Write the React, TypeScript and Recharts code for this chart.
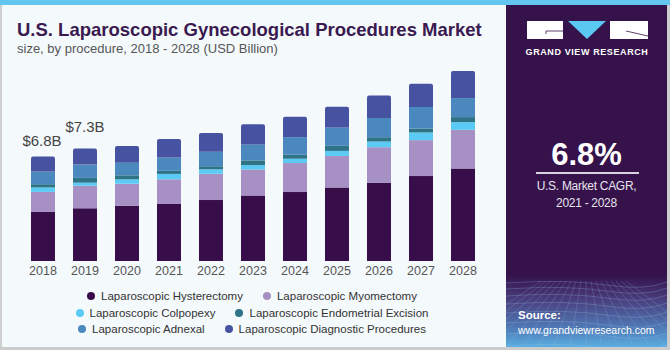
import React from 'react';
import { BarChart, Bar, XAxis, YAxis, LabelList } from 'recharts';

const years = ['2018', '2019', '2020', '2021', '2022', '2023', '2024', '2025', '2026', '2027', '2028'];
const hysterectomy = [3.2, 3.43, 3.6, 3.71, 3.97, 4.27, 4.49, 4.79, 5.09, 5.53, 6.03];
const myomectomy = [1.3, 1.47, 1.43, 1.61, 1.71, 1.69, 1.89, 2.05, 2.32, 2.34, 2.51];
const colpopexy = [0.29, 0.2, 0.29, 0.35, 0.29, 0.28, 0.28, 0.33, 0.37, 0.5, 0.5];
const endometrial = [0.21, 0.31, 0.26, 0.2, 0.2, 0.31, 0.26, 0.33, 0.28, 0.26, 0.33];
const adnexal = [0.83, 0.87, 0.82, 0.87, 0.95, 1.04, 1.15, 1.2, 1.25, 1.4, 1.24];
const diagnostic = [0.97, 1.04, 1.09, 1.2, 1.22, 1.32, 1.32, 1.34, 1.46, 1.52, 1.76];
const totalLabels = ['$6.8B', '$7.3B', '', '', '', '', '', '', '', '', ''];

const seriesNames = [
  'Laparoscopic Hysterectomy',
  'Laparoscopic Myomectomy',
  'Laparoscopic Colpopexy',
  'Laparoscopic Endometrial Excision',
  'Laparoscopic Adnexal',
  'Laparoscopic Diagnostic Procedures',
];
const seriesKeys = ['hyst', 'myo', 'colp', 'endo', 'adn', 'diag'];
const seriesColors = ['#370e49', '#a690c4', '#5bcbf5', '#2e7386', '#4b88bd', '#4753a1'];
const legendRows = [[0, 1], [2, 3], [4, 5]];

const data = years.map((y, i) => ({
  year: y,
  hyst: hysterectomy[i],
  myo: myomectomy[i],
  colp: colpopexy[i],
  endo: endometrial[i],
  adn: adnexal[i],
  diag: diagnostic[i],
  label: totalLabels[i],
}));

const FONT = '"Liberation Sans", Arial, sans-serif';

const renderTotal = (props: any) => {
  const { x, y, width, index } = props;
  const text = totalLabels[index];
  if (!text) return null;
  const lift = index === 0 ? 11 : 17;
  return (
    <text
      x={x + width / 2 - (index === 0 ? 1 : 0)}
      y={y - lift}
      textAnchor="middle"
      fontSize={15}
      fill="#444"
      fontFamily={FONT}
    >
      {text}
    </text>
  );
};

export default function App() {
  return (
    <div
      style={{
        position: 'absolute',
        left: 0,
        top: 0,
        width: 670,
        height: 350,
        background: '#f4f9fc',
        overflow: 'hidden',
        fontFamily: FONT,
      }}
    >
      <div style={{ position: 'absolute', left: 0, top: 0, width: 670, height: 5, background: '#62c6ee' }} />
      <div style={{ position: 'absolute', left: 0, top: 5, width: 1.5, height: 345, background: '#cfcfcf' }} />
      <div style={{ position: 'absolute', left: 0, top: 347, width: 670, height: 3, background: '#cccccc' }} />
      <div style={{ position: 'absolute', left: 667, top: 5, width: 3, height: 345, background: '#cccccc' }} />

      <div
        style={{
          position: 'absolute',
          left: 17,
          top: 21,
          fontSize: 18.5,
          lineHeight: '18.5px',
          fontWeight: 'bold',
          color: '#3a1a50',
          whiteSpace: 'nowrap',
        }}
      >
        U.S. Laparoscopic Gynecological Procedures Market
      </div>
      <div
        style={{
          position: 'absolute',
          left: 17,
          top: 42,
          fontSize: 13,
          lineHeight: '13px',
          color: '#555',
          whiteSpace: 'nowrap',
        }}
      >
        size, by procedure, 2018 - 2028 (USD Billion)
      </div>

      <div style={{ position: 'absolute', left: 0, top: 0 }}>
        <BarChart
          width={506}
          height={350}
          data={data}
          margin={{ top: 46, left: 22, right: 22, bottom: 69 }}
        >
          <XAxis
            dataKey="year"
            axisLine={false}
            tickLine={false}
            tickSize={0}
            tickMargin={5}
            height={20}
            interval={0}
            tick={{ fontSize: 12.5, fill: '#555', fontFamily: FONT }}
          />
          <YAxis hide domain={[0, 14]} />
          {seriesKeys.map((k, i) => (
            <Bar
              key={k}
              dataKey={k}
              stackId="a"
              barSize={24}
              fill={seriesColors[i]}
              isAnimationActive={false}
              radius={i === seriesKeys.length - 1 ? [2, 2, 0, 0] : 0}
            >
              {i === seriesKeys.length - 1 ? <LabelList dataKey="label" content={renderTotal} /> : null}
            </Bar>
          ))}
        </BarChart>
      </div>

      {legendRows.map((row, r) => (
        <div
          key={r}
          style={{
            position: 'absolute',
            left: 0,
            width: 504,
            top: 288 + r * 16.5,
            height: 16,
            display: 'flex',
            justifyContent: 'center',
            alignItems: 'center',
            gap: 20,
            fontSize: 11.5,
            color: '#333',
            whiteSpace: 'nowrap',
          }}
        >
          {row.map((si) => (
            <div key={si} style={{ display: 'flex', alignItems: 'center' }}>
              <span
                style={{
                  display: 'inline-block',
                  width: 8,
                  height: 8,
                  borderRadius: 4,
                  background: seriesColors[si],
                  marginRight: 6,
                }}
              />
              <span>{seriesNames[si]}</span>
            </div>
          ))}
        </div>
      ))}

      <div
        style={{
          position: 'absolute',
          left: 506,
          top: 5,
          width: 161,
          height: 342,
          background: '#35124a',
          overflow: 'hidden',
        }}
      >
        <div
          style={{
            position: 'absolute',
            left: 0,
            top: 270,
            width: 161,
            height: 72,
            background: 'linear-gradient(180deg, #35124a 0%, #4a3f7e 35%, #4f7cb8 75%, #5aaee0 100%)',
          }}
        />
        <svg width={161} height={72} style={{ position: 'absolute', left: 0, top: 270 }}>
          {[8, 14, 21, 29, 38, 48, 59, 71].map((yy, i) => (
            <path
              key={'h' + i}
              d={`M0 ${yy} Q 60 ${yy - 4} 100 ${yy + 2} T 161 ${yy - 1}`}
              stroke="#9fc6ee"
              strokeOpacity={0.35}
              fill="none"
              strokeWidth={0.7}
            />
          ))}
          {Array.from({ length: 18 }).map((_, i) => (
            <line
              key={'v' + i}
              x1={80 + (i - 9) * 5}
              y1={6}
              x2={80 + (i - 9) * 16}
              y2={72}
              stroke="#9fc6ee"
              strokeOpacity={0.3}
              strokeWidth={0.7}
            />
          ))}
        </svg>

        <svg width={161} height={60} style={{ position: 'absolute', left: 0, top: 0 }}>
          <rect x={21} y={16} width={36} height={18} fill="#ffffff" />
          <path d="M40 26 H57 M40 26 V29" stroke="#35124a" strokeWidth={0.8} fill="none" />
          <polygon points="62,16 100,16 81,34" fill="#5bc8f2" />
          <rect x={104} y={16} width={38} height={18} fill="#ffffff" />
          <path d="M120 26 L142 31" stroke="#35124a" strokeWidth={0.8} />
          <text
            x={81}
            y={50}
            textAnchor="middle"
            fontSize={9}
            fontWeight="bold"
            fill="#ffffff"
            letterSpacing={0.6}
            fontFamily={FONT}
          >
            GRAND VIEW RESEARCH
          </text>
        </svg>

        <div
          style={{
            position: 'absolute',
            left: 0,
            width: 161,
            top: 134,
            textAlign: 'center',
            fontSize: 31,
            lineHeight: '31px',
            fontWeight: 'bold',
            color: '#ffffff',
          }}
        >
          6.8%
        </div>
        <div style={{ position: 'absolute', left: 30, top: 167, width: 103, height: 1.5, background: '#d9d3e2' }} />
        <div
          style={{
            position: 'absolute',
            left: 0,
            width: 161,
            top: 173,
            textAlign: 'center',
            fontSize: 12,
            lineHeight: '17px',
            color: '#e8e4ee',
            letterSpacing: -0.3,
          }}
        >
          U.S. Market CAGR,
          <br />
          2021 - 2028
        </div>

        <div
          style={{
            position: 'absolute',
            left: 12,
            top: 303,
            fontSize: 11.5,
            lineHeight: '14px',
            fontWeight: 'bold',
            color: '#ffffff',
          }}
        >
          Source:
        </div>
        <div
          style={{
            position: 'absolute',
            left: 12,
            top: 318,
            fontSize: 10.5,
            lineHeight: '14px',
            color: '#ffffff',
            whiteSpace: 'nowrap',
          }}
        >
          www.grandviewresearch.com
        </div>
      </div>
    </div>
  );
}
